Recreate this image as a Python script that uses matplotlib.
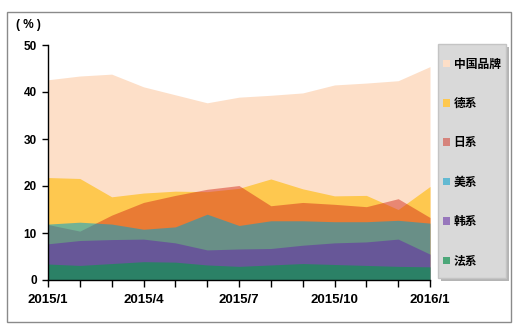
import matplotlib
matplotlib.use("Agg")
import matplotlib.pyplot as plt
from matplotlib.patches import Rectangle
import numpy as np

plt.rcParams['font.family'] = ['Liberation Sans', 'Noto Sans CJK SC', 'DejaVu Sans']

months = ['2015/1', '2015/2', '2015/3', '2015/4', '2015/5', '2015/6', '2015/7',
          '2015/8', '2015/9', '2015/10', '2015/11', '2015/12', '2016/1']

china = [42.6, 43.4, 43.8, 41.1, 39.4, 37.7, 38.9, 39.3, 39.8, 41.5, 41.9, 42.4, 45.4]
german = [21.8, 21.6, 17.7, 18.5, 18.9, 18.8, 19.5, 21.5, 19.4, 17.9, 18.0, 15.0, 19.9]
japan = [11.8, 10.4, 13.8, 16.5, 18.0, 19.3, 20.1, 15.8, 16.5, 16.1, 15.6, 17.3, 13.3]
usa = [11.9, 12.3, 11.9, 10.8, 11.3, 14.0, 11.6, 12.6, 12.6, 12.4, 12.4, 12.7, 12.1]
korea = [7.7, 8.4, 8.6, 8.7, 7.9, 6.4, 6.6, 6.7, 7.4, 7.9, 8.1, 8.7, 5.5]
france = [3.4, 3.1, 3.5, 3.9, 3.8, 3.2, 2.9, 3.2, 3.5, 3.3, 3.1, 2.9, 2.8]

series = [
    ('中国品牌', china, '#fddfc8', 1.0),
    ('德系', german, '#fec84f', 1.0),
    ('日系', japan, '#d32818', 0.48),
    ('美系', usa, '#00a0cd', 0.55),
    ('韩系', korea, '#662da6', 0.57),
    ('法系', france, '#139352', 0.71),
]

W, H = 518, 328
fig = plt.figure(figsize=(W / 100, H / 100), dpi=100)


def box(x0, y0, x1, y1, **kw):
    # pixel box (top-left origin) -> figure rectangle, kept behind the axes
    return Rectangle((x0 / W, 1 - y1 / H), (x1 - x0) / W, (y1 - y0) / H,
                     transform=fig.transFigure, zorder=-1, **kw)


fig.patches.append(box(7, 12, 511, 322, fill=False, edgecolor='#8a8a8a', linewidth=1))
# legend background with a small drop shadow
fig.patches.append(box(441, 47, 509, 281, facecolor='#b4b4b4', edgecolor='none'))
fig.patches.append(box(438, 44, 506, 278, facecolor='#d9d9d9', edgecolor='#c4c4c4', linewidth=1))

ax = fig.add_axes([48 / W, 48 / H, 382 / W, 235 / H])
x = np.arange(len(months))
for name, vals, col, a in series:
    ax.fill_between(x, 0, vals, color=col, alpha=a, linewidth=0, label=name)

ax.set_xlim(0, 12)
ax.set_ylim(0, 50)
ax.set_yticks(range(0, 51, 10))
ax.set_xticks(x)
ax.set_xticklabels([m if i % 3 == 0 else '' for i, m in enumerate(months)])
for s in ['top', 'right']:
    ax.spines[s].set_visible(False)
for s in ['left', 'bottom']:
    ax.spines[s].set_color('black')
    ax.spines[s].set_linewidth(1)
ax.tick_params(axis='y', length=4, width=1, labelsize=8.5, pad=4)
ax.tick_params(axis='x', length=5, width=1, labelsize=9.5, pad=5)
for t in ax.get_xticklabels() + ax.get_yticklabels():
    t.set_fontweight('bold')

fig.text(28 / W, 1 - 25 / H, '( % )', ha='center', va='center',
         fontsize=8.5, fontweight='bold')

leg = ax.legend(loc='upper left', bbox_to_anchor=(443 / W, 1 - 57.5 / H),
                bbox_transform=fig.transFigure, borderaxespad=0,
                prop={'family': ['Noto Sans CJK SC'], 'weight': 'bold', 'size': 8.5},
                labelspacing=2.24, handlelength=0.6, handleheight=0.6,
                handletextpad=0.3, borderpad=0, frameon=False)

fig.savefig('out.png', dpi=100)
